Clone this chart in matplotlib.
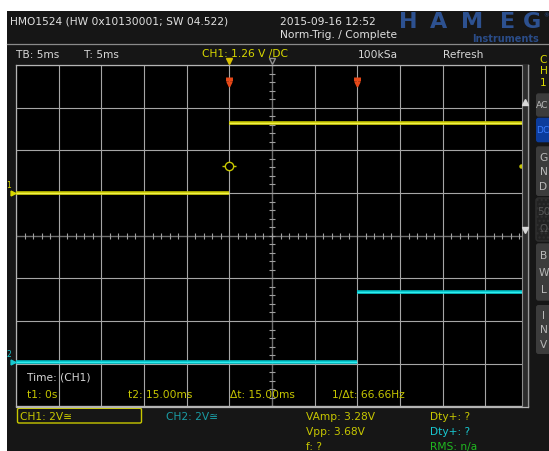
import numpy as np
import matplotlib
matplotlib.use("Agg")
import matplotlib.pyplot as plt
from matplotlib.patches import Rectangle, FancyBboxPatch
import matplotlib.transforms as mtransforms

plt.rcParams['font.family'] = ['DejaVu Sans']

# ---- acquisition settings ----
ms_per_div = 5.0
volts_per_div = 2.0
t_left_ms = -25.0
t_right_ms = 35.0
n_hdiv = 12
n_vdiv = 8

ch1_offset_div = 1.0
ch2_offset_div = -2.97
trigger_level_v = 1.26
cursor_t1_ms = 0.0
cursor_t2_ms = 15.0

# ---- captured waveforms (ms, V) ----
ch1_time_ms = [-25.0, 0.0, np.nan, 0.0, 35.0]
ch1_volts = [0.0, 0.0, np.nan, 3.28, 3.28]
ch2_time_ms = [-25.0, 15.0, np.nan, 15.0, 35.0]
ch2_volts = [0.0, 0.0, np.nan, 3.28, 3.28]

# ---- screen texts ----
header_id = "HMO1524 (HW 0x10130001; SW 04.522)"
header_date = "2015-09-16 12:52"
header_trig = "Norm-Trig. / Complete"
status_items = [("TB: 5ms", 16.5, "#d8d8d8"), ("T: 5ms", 84, "#d8d8d8"),
                ("CH1: 1.26 V /DC", 202, "#d8d800"), ("100kSa", 358, "#d8d8d8"),
                ("Refresh", 442.5, "#d8d8d8")]
cursor_texts = [("t1: 0s", 27), ("t2: 15.00ms", 128), ("\u0394t: 15.00ms", 230),
                ("1/\u0394t: 66.66Hz", 332.5)]
meas_col1 = ["VAmp: 3.28V", "Vpp: 3.68V", "f: ?"]
meas_col2 = [("Dty+: ?", "#c8c800"), ("Dty+: ?", "#18c8d0"), ("RMS: n/a", "#20b820")]
buttons = [("AC", 94.3, 117.7), ("DC", 118.7, 143.3), ("G\nN\nD", 147.3, 197),
           ("50\n\u03a9", 199, 242), ("B\nW\nL", 244.3, 301.7), ("I\nN\nV", 306, 355)]

YEL = "#c8c800"
FS = 7.7
W, H = 549, 452

fig = plt.figure(figsize=(W / 100, H / 100), dpi=100)
fig.patch.set_facecolor("white")

# background chrome (pixel coordinates)
bg = fig.add_axes([0, 0, 1, 1], zorder=0)
bg.set_xlim(0, W); bg.set_ylim(H, 0); bg.axis("off")
bg.add_patch(Rectangle((7, 12), W - 7, H - 12, color="#161616", lw=0))
bg.plot([7, W], [45, 45], color="#8a8a8a", lw=0.9)

# scope graticule
gx0, gx1, gy0, gy1 = 16, 528, 66, 407.3
ax = fig.add_axes([gx0 / W, 1 - gy1 / H, (gx1 - gx0) / W, (gy1 - gy0) / H], zorder=1)
ax.set_facecolor("black")
ax.set_xlim(t_left_ms, t_right_ms)
ax.set_ylim(-n_vdiv / 2, n_vdiv / 2)
ax.set_xticks(np.linspace(t_left_ms, t_right_ms, n_hdiv + 1))
ax.set_yticks(np.arange(-n_vdiv // 2, n_vdiv // 2 + 1))
ax.tick_params(length=0, labelbottom=False, labelleft=False)
ax.grid(True, color="#a6a6a6", lw=0.8)
for s in ax.spines.values():
    s.set_color("#b4b4b4"); s.set_linewidth(0.9)

# center cross with sub-division ticks
t_center = (t_left_ms + t_right_ms) / 2
ax.axhline(0, color="#6e6e6e", lw=0.9, zorder=2)
ax.axvline(t_center, color="#6e6e6e", lw=0.9, zorder=2)
sub_t = np.arange(t_left_ms, t_right_ms + 0.01, ms_per_div / 5)
ax.plot(sub_t, np.zeros_like(sub_t), ls="none", marker="|", ms=4, mew=0.8,
        color="#a0a0a0", zorder=2)
sub_v = np.arange(-n_vdiv / 2, n_vdiv / 2 + 0.01, 0.2)
ax.plot(np.full_like(sub_v, t_center), sub_v, ls="none", marker="_", ms=4,
        mew=0.8, color="#a0a0a0", zorder=2)

# traces
ch1_div = ch1_offset_div + np.array(ch1_volts) / volts_per_div
ch2_div = ch2_offset_div + np.array(ch2_volts) / volts_per_div
ax.plot(ch1_time_ms, ch1_div, color="#c8c800", lw=2.6, zorder=4, solid_capstyle="butt")
ax.plot(ch1_time_ms, ch1_div, color="#f2f24a", lw=1.0, zorder=5, solid_capstyle="butt")
ax.plot(ch2_time_ms, ch2_div, color="#00c0c8", lw=2.6, zorder=4, solid_capstyle="butt")
ax.plot(ch2_time_ms, ch2_div, color="#30eef0", lw=1.0, zorder=5, solid_capstyle="butt")

# trigger point and level
trig_div = ch1_offset_div + trigger_level_v / volts_per_div
ax.plot([0], [trig_div], marker="_", ms=10, mew=1, color=YEL, zorder=6)
ax.plot([0], [trig_div], marker="o", ms=6, mfc="black", mec=YEL, mew=1, zorder=7)
ax.plot([34.2], [trig_div], marker="o", ms=2.2, color=YEL, zorder=6)

# cursor flags and trigger-position markers above the grid
top = mtransforms.blended_transform_factory(ax.transData, ax.transAxes)
for tc in (cursor_t1_ms, cursor_t2_ms):
    ax.plot([tc, tc], [0.964, 0.952], transform=top, color="#e84818", lw=5,
            solid_capstyle="butt", zorder=8)
    ax.plot([tc], [0.944], transform=top, marker="v", ms=3.5, color="#e84818", zorder=8)
ax.plot([0], [1.012], transform=top, marker="v", ms=4, color="#d8c000",
        clip_on=False, zorder=8)
ax.plot([t_center], [1.012], transform=top, marker="v", ms=4, mfc="none",
        mec="#909090", clip_on=False, zorder=8)

# channel ground markers on the left edge
left = mtransforms.blended_transform_factory(ax.transAxes, ax.transData)
for lab, off, col in (("1", ch1_offset_div, "#d8d800"), ("2", ch2_offset_div, "#18c8d0")):
    ax.plot([-0.006], [off], transform=left, marker=">", ms=3.5, color=col,
            clip_on=False, zorder=8)
    ax.annotate(lab, xy=(0, off), xycoords=left, xytext=(-5, 3),
                textcoords="offset points", fontsize=5.5, color=col,
                ha="center", va="bottom", annotation_clip=False)

# foreground chrome and readouts (pixel coordinates)
fg = fig.add_axes([0, 0, 1, 1], zorder=3)
fg.set_xlim(0, W); fg.set_ylim(H, 0); fg.axis("off"); fg.patch.set_alpha(0)

# right scroll strip
fg.add_patch(Rectangle((521.5, 66), 6.5, 341.5, color="#2c2c2c", lw=0))
fg.plot([521.5, 521.5], [66, 407.5], color="#8c8c8c", lw=0.8)
fg.plot([528, 528], [66, 407.5], color="#9a9a9a", lw=0.9)
fg.plot([16, 528], [407.5, 407.5], color="#b4b4b4", lw=0.9)
fg.plot([524.5], [103.3], marker="^", ms=4, color="#d8d8d8")
fg.plot([524.5], [230.7], marker="v", ms=4, color="#d8d8d8")

# header
fg.text(10, 22, header_id, fontsize=FS, color="#e0e0e0", va="center")
fg.text(280, 22, header_date, fontsize=FS, color="#e0e0e0", va="center")
fg.text(280, 35.5, header_trig, fontsize=FS, color="#e0e0e0", va="center")
for ch, xc in zip("HAMEG", [408, 438.5, 472.5, 507.5, 532]):
    fg.text(xc, 21.8, ch, fontsize=16, fontweight="heavy", color="#2d5190",
            ha="center", va="center")
fg.text(545.5, 16, "\u00ae", fontsize=4, color="#2d5190", ha="center", va="center")
fg.text(505.5, 38.5, "Instruments", fontsize=7, fontweight="bold", color="#2a4c88",
        ha="center", va="center")

for txt, x, col in status_items:
    fg.text(x, 54.5, txt, fontsize=FS, color=col, va="center")
for i, ch in enumerate("CH1"):
    fg.text(543.5, 60 + 11.5 * i, ch, fontsize=FS, color="#d8d800",
            ha="center", va="center")

# side buttons
for lab, y0, y1 in buttons:
    if lab == "DC":
        fc, tc = "#0c3c9c", "#3a7cff"
    elif lab.startswith("50"):
        fc, tc = "#222222", "#575757"
    else:
        fc, tc = "#3c3c3c", "#b8b8b8"
    box = FancyBboxPatch((536, y0), 20, y1 - y0,
                         boxstyle="round,pad=0,rounding_size=2.5", fc=fc, ec="none")
    if lab.startswith("50"):
        box.set_hatch("....")
        box.set_edgecolor("#303030")
    fg.add_patch(box)
    lines = lab.split("\n")
    n = len(lines)
    step = (y1 - y0) / (n + 0.4)
    for j, part in enumerate(lines):
        if n == 1:
            fg.text(536.3, (y0 + y1) / 2, part, fontsize=6.6, color=tc,
                    ha="left", va="center")
        else:
            fg.text(543.5, y0 + step * (j + 0.7), part, fontsize=FS, color=tc,
                    ha="center", va="center")

# cursor readout inside the grid
fg.text(27, 378, "Time: (CH1)", fontsize=FS, color="#d6d6d6", va="center")
for txt, x in cursor_texts:
    fg.text(x, 395, txt, fontsize=FS, color=YEL, va="center")

# channel settings and measurements
fg.add_patch(FancyBboxPatch((17.5, 409.3), 124, 14.7,
                            boxstyle="round,pad=0,rounding_size=1.5",
                            fc="none", ec=YEL, lw=1))
fg.text(20, 416.8, "CH1: 2V\u2245", fontsize=FS, color=YEL, va="center")
fg.text(166, 416.8, "CH2: 2V\u2245", fontsize=FS, color="#1a9ca4", va="center")
for i, txt in enumerate(meas_col1):
    fg.text(306, 416.8 + 15.2 * i, txt, fontsize=FS, color=YEL, va="center")
for i, (txt, col) in enumerate(meas_col2):
    fg.text(430, 416.8 + 15.2 * i, txt, fontsize=FS, color=col, va="center")

fig.savefig("out.png", dpi=100, facecolor=fig.get_facecolor())
